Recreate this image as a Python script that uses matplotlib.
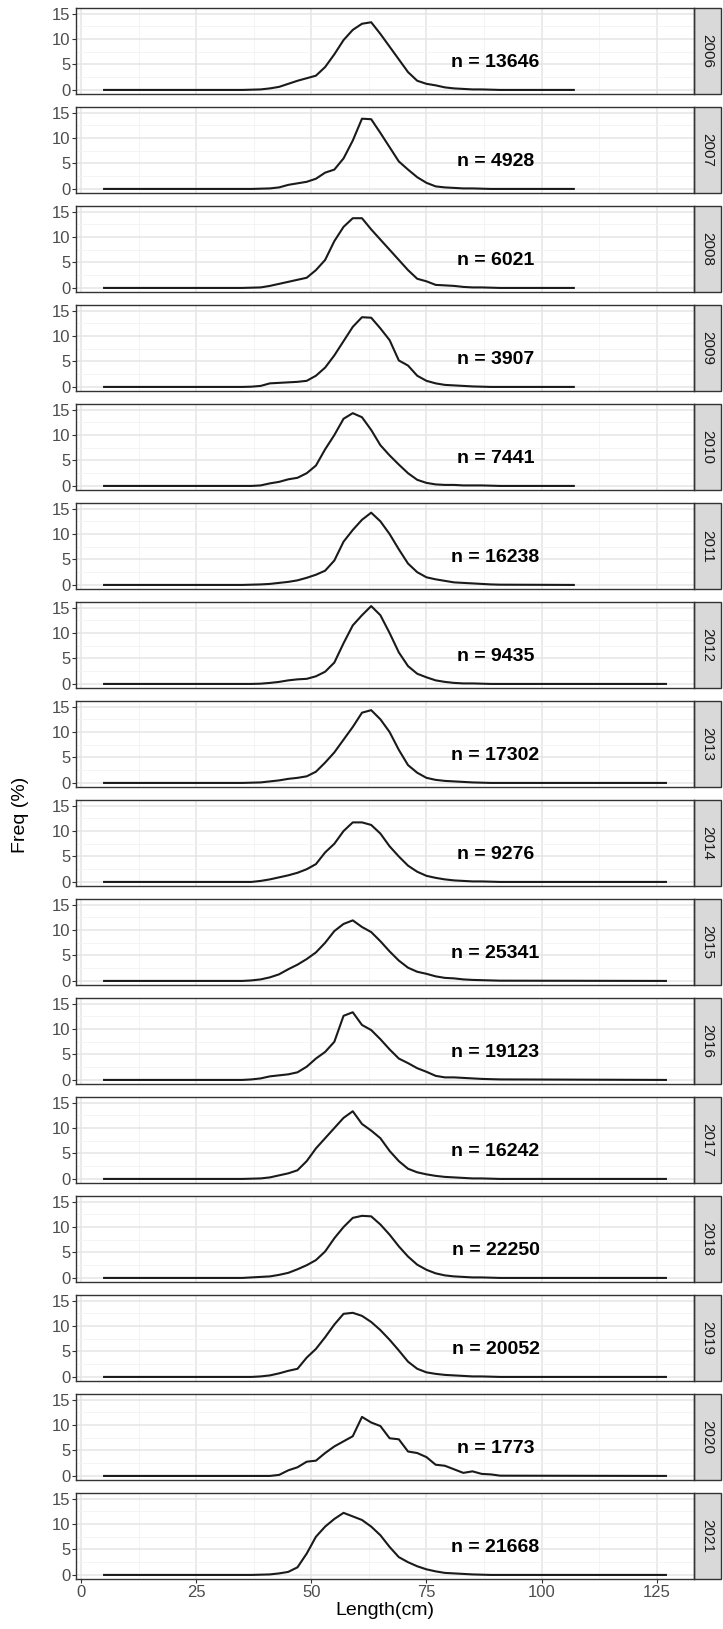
import matplotlib
matplotlib.use("Agg")
import matplotlib.pyplot as plt
from matplotlib.patches import Rectangle
from matplotlib.ticker import MultipleLocator

plt.rcParams['font.family'] = ['Liberation Sans', 'DejaVu Sans']

# length bins (cm) around the mode; tails are zero out to 5 cm and the last bin
L_mid = [35, 37, 39, 41, 43, 45, 47, 49, 51, 53, 55, 57, 59, 61, 63,
         65, 67, 69, 71, 73, 75, 77, 79, 81, 83, 85, 87, 89, 91]

years = [2006, 2007, 2008, 2009, 2010, 2011, 2012, 2013,
         2014, 2015, 2016, 2017, 2018, 2019, 2020, 2021]
n_obs = [13646, 4928, 6021, 3907, 7441, 16238, 9435, 17302,
         9276, 25341, 19123, 16242, 22250, 20052, 1773, 21668]
last_len = [107, 107, 107, 107, 107, 107, 127, 127,
            127, 127, 127, 127, 127, 127, 127, 127]

freq = {
    2006: [0, 0.05, 0.1, 0.3, 0.6, 1.2, 1.8, 2.3, 2.8, 4.5, 7, 9.8, 11.8, 13, 13.3,
           11, 8.5, 6, 3.5, 1.8, 1.2, 0.9, 0.5, 0.3, 0.2, 0.1, 0.1, 0.05, 0],
    2007: [0, 0, 0.05, 0.1, 0.3, 0.8, 1.1, 1.4, 2.0, 3.2, 3.8, 6, 9.5, 13.8, 13.7,
           11, 8.2, 5.4, 3.8, 2.3, 1.2, 0.5, 0.3, 0.2, 0.1, 0.1, 0.05, 0, 0],
    2008: [0, 0.05, 0.1, 0.4, 0.8, 1.2, 1.6, 2.0, 3.5, 5.5, 9.2, 12, 13.7, 13.7, 11.5,
           9.5, 7.5, 5.5, 3.5, 1.8, 1.3, 0.6, 0.5, 0.4, 0.2, 0.1, 0.1, 0.05, 0],
    2009: [0, 0.05, 0.2, 0.7, 0.8, 0.9, 1.0, 1.2, 2.2, 3.8, 6.2, 9, 11.8, 13.7, 13.6,
           11.5, 9.2, 5.2, 4.2, 2.2, 1.2, 0.7, 0.4, 0.3, 0.2, 0.1, 0.05, 0, 0],
    2010: [0, 0, 0.1, 0.5, 0.8, 1.3, 1.6, 2.5, 4, 7.2, 10, 13.2, 14.3, 13.5, 11,
           8, 6, 4.2, 2.5, 1.2, 0.6, 0.3, 0.2, 0.2, 0.1, 0.1, 0.1, 0.05, 0],
    2011: [0, 0.05, 0.1, 0.2, 0.4, 0.6, 0.9, 1.4, 2.0, 2.8, 4.8, 8.5, 10.8, 12.8, 14.2,
           12.5, 10, 7, 4.2, 2.5, 1.5, 1.1, 0.8, 0.5, 0.4, 0.3, 0.2, 0.1, 0.05],
    2012: [0, 0, 0.05, 0.2, 0.4, 0.7, 0.9, 1.0, 1.5, 2.4, 4.2, 8, 11.5, 13.5, 15.3,
           13.5, 10, 6.2, 3.5, 2, 1.3, 0.7, 0.4, 0.2, 0.1, 0.1, 0.05, 0, 0],
    2013: [0, 0.05, 0.1, 0.3, 0.5, 0.8, 1.0, 1.3, 2.2, 4, 6, 8.5, 11, 13.8, 14.3,
           12.5, 10, 6.5, 3.5, 2, 1, 0.6, 0.4, 0.3, 0.2, 0.1, 0.05, 0, 0],
    2014: [0, 0, 0.2, 0.5, 0.9, 1.3, 1.8, 2.5, 3.5, 5.8, 7.5, 10, 11.7, 11.7, 11.2,
           9.5, 7, 5, 3.2, 2, 1.2, 0.8, 0.5, 0.3, 0.2, 0.1, 0.1, 0.05, 0],
    2015: [0, 0.1, 0.3, 0.7, 1.3, 2.3, 3.2, 4.3, 5.6, 7.5, 9.8, 11.2, 11.9, 10.6, 9.6,
           7.8, 5.8, 4, 2.6, 1.8, 1.4, 0.9, 0.6, 0.5, 0.3, 0.2, 0.15, 0.1, 0.05],
    2016: [0, 0.1, 0.3, 0.7, 0.9, 1.1, 1.5, 2.6, 4.2, 5.5, 7.5, 12.6, 13.3, 10.8, 9.8,
           8, 6, 4.2, 3.3, 2.3, 1.6, 0.8, 0.5, 0.5, 0.4, 0.3, 0.2, 0.15, 0.1],
    2017: [0, 0.05, 0.1, 0.3, 0.7, 1.1, 1.7, 3.5, 6, 8, 10, 12, 13.3, 10.8, 9.5,
           8, 5.5, 3.5, 2, 1.3, 0.9, 0.6, 0.4, 0.3, 0.2, 0.1, 0.1, 0.05, 0],
    2018: [0, 0.1, 0.2, 0.3, 0.6, 1.0, 1.7, 2.5, 3.5, 5.2, 7.8, 10, 11.8, 12.2, 12.1,
           10.5, 8.5, 6.2, 4.2, 2.6, 1.6, 0.9, 0.5, 0.3, 0.2, 0.1, 0.1, 0.05, 0],
    2019: [0, 0, 0.1, 0.3, 0.7, 1.2, 1.6, 3.8, 5.5, 7.8, 10.3, 12.4, 12.6, 12, 10.8,
           9.2, 7.3, 5.2, 3, 1.6, 0.9, 0.6, 0.4, 0.3, 0.2, 0.1, 0.1, 0.05, 0],
    2020: [0, 0, 0, 0, 0.2, 1.1, 1.7, 2.8, 3, 4.5, 5.8, 6.8, 7.8, 11.6, 10.5,
           9.8, 7.4, 7.2, 4.8, 4.5, 3.7, 2.2, 2, 1.3, 0.6, 0.9, 0.4, 0.3, 0.05],
    2021: [0, 0, 0.05, 0.1, 0.3, 0.6, 1.5, 4.2, 7.5, 9.5, 11, 12.2, 11.5, 10.8, 9.5,
           7.8, 5.5, 3.5, 2.5, 1.7, 1.1, 0.7, 0.4, 0.3, 0.2, 0.1, 0.05, 0, 0],
}

W, H = 723, 1629
fig = plt.figure(figsize=(W / 100, H / 100), dpi=100)
left, right = 76 / W, 694 / W
strip_w = 27 / W
top0, pitch, ph = 8, 99, 86

axes = []
for i, yr in enumerate(years):
    bottom = 1 - (top0 + pitch * i + ph) / H
    ax = fig.add_axes([left, bottom, right - left, ph / H])
    axes.append(ax)
    x = [5] + L_mid + [last_len[i]]
    y = [0] + freq[yr] + [0]
    ax.plot(x, y, color='#1a1a1a', lw=1.5, solid_joinstyle='round')
    ax.text(90, 5.3, f"n = {n_obs[i]}", ha='center', va='center',
            fontsize=14, fontweight='bold', color='black')
    ax.set_xlim(-1.1, 133.1)
    ax.set_ylim(-0.8, 16.1)
    ax.xaxis.set_major_locator(MultipleLocator(25))
    ax.xaxis.set_minor_locator(MultipleLocator(12.5))
    ax.yaxis.set_major_locator(MultipleLocator(5))
    ax.yaxis.set_minor_locator(MultipleLocator(2.5))
    ax.grid(which='major', color='#E5E5E5', lw=1.1)
    ax.grid(which='minor', color='#F2F2F2', lw=0.6)
    ax.set_axisbelow(True)
    ax.tick_params(which='minor', length=0)
    ax.tick_params(which='major', length=3, color='#333333', labelsize=12,
                   labelcolor='#4D4D4D', pad=1)
    for s in ax.spines.values():
        s.set_color('#333333')
        s.set_linewidth(1.0)
    if i < len(years) - 1:
        ax.tick_params(axis='x', labelbottom=False, length=0)
    # facet strip on the right
    sw = strip_w / (right - left)
    ax.add_patch(Rectangle((1, 0), sw, 1, transform=ax.transAxes,
                           facecolor='#D9D9D9', edgecolor='#333333', lw=1.0,
                           clip_on=False))
    ax.text(1 + sw / 2, 0.5, str(yr), transform=ax.transAxes, rotation=-90,
            ha='center', va='center', fontsize=11, color='#1A1A1A')

axes[-1].set_xlabel('Length(cm)', fontsize=14, labelpad=2)
fig.text(0.028, 0.5, 'Freq (%)', rotation=90, ha='center', va='center', fontsize=14)

fig.savefig('out.png', dpi=100)
